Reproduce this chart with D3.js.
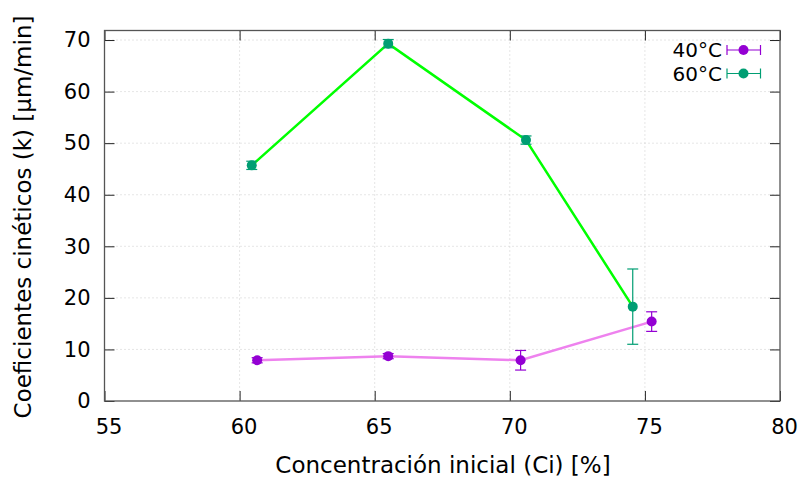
<!DOCTYPE html>
<html><head><meta charset="utf-8">
<script src="https://cdn.jsdelivr.net/npm/d3@7"></script>
<style>body{margin:0;background:#fff}svg{display:block}text{font-family:"DejaVu Sans",sans-serif}</style>
</head><body>
<svg id="c" width="801" height="479"></svg>
<script>
const series40_x = [60.65, 65.5, 70.4, 75.25];
const series40_y = [7.9, 8.7, 7.9, 15.4];
const series40_err = [0.5, 0.5, 1.9, 1.9];
const series60_x = [60.45, 65.5, 70.6, 74.55];
const series60_y = [45.7, 69.3, 50.6, 18.3];
const series60_err = [0.8, 0.8, 0.8, 7.3];
const xTicks = [55, 60, 65, 70, 75, 80];
const yTicks = [0, 10, 20, 30, 40, 50, 60, 70];
const seriesNames = ["40°C", "60°C"];

const svg = d3.select("#c");
const L = 104.5, R = 780, T = 30.5, B = 401;
const x = d3.scaleLinear().domain([55, 80]).range([L, R]);
const y = d3.scaleLinear().domain([0, 71.85]).range([B, T]);

// grid
const g = svg.append("g");
g.selectAll("line.gx").data(xTicks.filter(d => d > 55 && d < 80)).join("line")
  .attr("x1", d => x(d)).attr("x2", d => x(d)).attr("y1", T).attr("y2", B)
  .attr("stroke", "#ccc").attr("stroke-width", 1).attr("stroke-dasharray", "1,3");
g.selectAll("line.gy").data(yTicks.filter(d => d > 0)).join("line")
  .attr("y1", d => y(d)).attr("y2", d => y(d)).attr("x1", L).attr("x2", R)
  .attr("stroke", "#ccc").attr("stroke-width", 1).attr("stroke-dasharray", "1,3");

// axes (ticks inward, mirrored)
const tl = 10;
const axB = d3.axisBottom(x).tickValues(xTicks).tickSize(-tl).tickFormat(d3.format("d")).tickPadding(18);
const axT = d3.axisTop(x).tickValues(xTicks).tickSize(-tl).tickFormat("");
const axL = d3.axisLeft(y).tickValues(yTicks).tickSize(-tl).tickFormat(d3.format("d")).tickPadding(20);
const axR = d3.axisRight(y).tickValues(yTicks).tickSize(-tl).tickFormat("");
function style(sel){
  sel.select(".domain").remove();
  sel.selectAll(".tick line").attr("stroke", "#222");
  sel.selectAll(".tick text").attr("fill", "#000").style("font-size", "21px").style("font-family", "DejaVu Sans");
}
svg.append("g").attr("transform", `translate(0,${B})`).call(axB).call(style)
  .selectAll(".tick text").attr("dx", "4");
svg.append("g").attr("transform", `translate(0,${T})`).call(axT).call(style);
svg.append("g").attr("transform", `translate(${L},0)`).call(axL).call(style)
  .selectAll(".tick text").attr("dx", "6");
svg.append("g").attr("transform", `translate(${R},0)`).call(axR).call(style);

svg.append("rect").attr("x", L).attr("y", T).attr("width", R - L).attr("height", B - T)
  .attr("fill", "none").attr("stroke", "#555").attr("stroke-width", 1.3);

const series = [
  {name: seriesNames[0], xs: series40_x, ys: series40_y, es: series40_err, pc: "#9400d3", lc: "#ee82ee"},
  {name: seriesNames[1], xs: series60_x, ys: series60_y, es: series60_err, pc: "#009e73", lc: "#00ff00"}
];
const line = d3.line().x(d => x(d[0])).y(d => y(d[1]));
series.forEach(s => {
  const pts = s.xs.map((v, i) => [v, s.ys[i], s.es[i]]);
  svg.append("path").attr("d", line(pts)).attr("fill", "none").attr("stroke", s.lc).attr("stroke-width", 2.5);
});
series.forEach(s => {
  const pts = s.xs.map((v, i) => [v, s.ys[i], s.es[i]]);
  const gg = svg.append("g").attr("stroke", s.pc).attr("stroke-width", 1.2);
  pts.forEach(p => {
    const cx = x(p[0]), y1 = y(p[1] + p[2]), y2 = y(p[1] - p[2]);
    gg.append("line").attr("x1", cx).attr("x2", cx).attr("y1", y1).attr("y2", y2);
    gg.append("line").attr("x1", cx - 5.5).attr("x2", cx + 5.5).attr("y1", y1).attr("y2", y1);
    gg.append("line").attr("x1", cx - 5.5).attr("x2", cx + 5.5).attr("y1", y2).attr("y2", y2);
  });
  svg.append("g").selectAll("circle").data(pts).join("circle")
    .attr("cx", d => x(d[0])).attr("cy", d => y(d[1])).attr("r", 5).attr("fill", s.pc);
});

// legend
const legY0 = 50, legDy = 23.5;
series.forEach((s, i) => {
  const ly = legY0 + i * legDy;
  svg.append("text").attr("text-anchor", "end").style("font-size", "20px")
    .attr("x", 722).attr("y", ly + 7.3).text(s.name);
  const lg = svg.append("g").attr("stroke", s.pc).attr("stroke-width", 1.2);
  lg.append("line").attr("x1", 727).attr("x2", 760.5).attr("y1", ly).attr("y2", ly);
  lg.append("line").attr("x1", 727).attr("x2", 727).attr("y1", ly - 5).attr("y2", ly + 5);
  lg.append("line").attr("x1", 760.5).attr("x2", 760.5).attr("y1", ly - 5).attr("y2", ly + 5);
  svg.append("circle").attr("cx", 743.5).attr("cy", ly).attr("r", 5).attr("fill", s.pc);
});

// axis titles
svg.append("text").attr("x", 443).attr("y", 473).attr("text-anchor", "middle")
  .style("font-size", "23px").text("Concentración inicial (Ci) [%]");
svg.append("text").attr("transform", "translate(31,217) rotate(-90)").attr("text-anchor", "middle")
  .style("font-size", "23px").text("Coeficientes cinéticos (k) [μm/min]");
</script>
</body></html>
